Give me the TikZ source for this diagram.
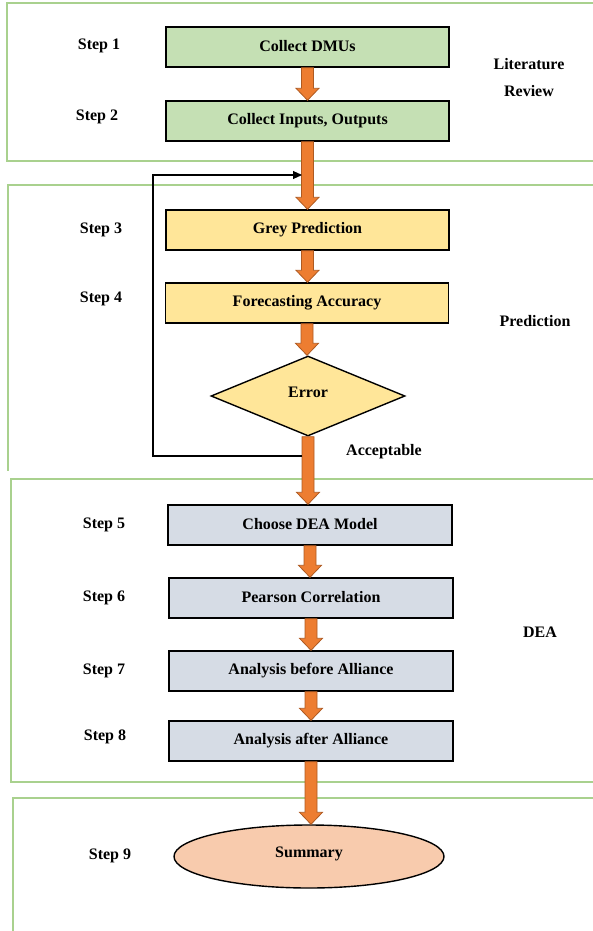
\documentclass[tikz,border=0pt]{standalone}
\usepackage{fontspec}
\setmainfont{Liberation Serif}
\usetikzlibrary{shapes.geometric,calc,arrows.meta}
\definecolor{frameg}{HTML}{A9D18E}
\definecolor{boxgreen}{HTML}{C5E0B4}
\definecolor{boxyellow}{HTML}{FFE699}
\definecolor{boxgrey}{HTML}{D6DCE5}
\definecolor{boxpeach}{HTML}{F8CBAD}
\definecolor{arrfill}{HTML}{ED7D31}
\definecolor{arrdraw}{HTML}{AE5A21}
\tikzset{
  lbl/.style={font=\bfseries\fontsize{16}{18}\selectfont, inner sep=0pt},
  stepbox/.style={draw=black, line width=1.4pt, minimum height=40pt, inner sep=0pt, font=\bfseries\fontsize{16}{18}\selectfont},
  gbox/.style={stepbox, fill=boxgreen, minimum width=283pt},
  ybox/.style={stepbox, fill=boxyellow, minimum width=283pt},
  sbox/.style={stepbox, fill=boxgrey, minimum width=284pt},
  frame/.style={draw=frameg, line width=1.4pt},
  barrowstyle/.style={fill=arrfill, draw=arrdraw, line width=0.8pt, line join=miter},
}
\newcommand\barrow[2]{%
  \draw[barrowstyle] let \p1=(#1.south), \p2=(#2.north) in
   (\x1-6pt,\y1) -- (\x1+6pt,\y1) -- (\x1+6pt,\y2+12pt) -- (\x1+11.5pt,\y2+12pt) -- (\x1,\y2)
   -- (\x1-11.5pt,\y2+12pt) -- (\x1-6pt,\y2+12pt) -- cycle;}
\begin{document}
\begin{tikzpicture}[x=1pt,y=-1pt]
\useasboundingbox (0,0) rectangle (592,931);
% frames
\draw[frame] (600,3) -- (7,3) -- (7,161) -- (600,161);
\draw[frame] (600,185) -- (8,185) -- (8,471);
\draw[frame] (600,479) -- (11,479) -- (11,782) -- (600,782);
\draw[frame] (600,798) -- (13,798) -- (13,935);
% boxes
\node[gbox] (s1) at (307.5,47) {\raisebox{3pt}{Collect DMUs}};
\node[gbox] (s2) at (307.5,121) {\raisebox{3pt}{Collect Inputs, Outputs}};
\node[ybox] (s3) at (307.5,230) {\raisebox{3pt}{Grey Prediction}};
\node[ybox] (s4) at (307,303) {\raisebox{3pt}{Forecasting Accuracy}};
\node[diamond, draw=black, line width=1.4pt, fill=boxyellow, minimum width=194pt, minimum height=80pt, aspect=2.4, inner sep=0pt, font=\bfseries\fontsize{16}{18}\selectfont] (err) at (308,396) {\raisebox{7pt}{Error}};
\node[sbox] (s5) at (310,525) {\raisebox{3pt}{Choose DEA Model}};
\node[sbox] (s6) at (311,598) {\raisebox{3pt}{Pearson Correlation}};
\node[sbox] (s7) at (311,671) {\raisebox{3pt}{Analysis before Alliance}};
\node[sbox] (s8) at (311,741) {\raisebox{3pt}{Analysis after Alliance}};
\node[ellipse, draw=black, line width=1.4pt, fill=boxpeach, minimum width=270pt, minimum height=63pt, inner sep=0pt, font=\bfseries\fontsize{16}{18}\selectfont] (s9) at (309,856.5) {\raisebox{9pt}{Summary}};
% labels
\node[lbl] (l1) at (99,46) {Step 1};
\node[lbl] (l2) at (97,117) {Step 2};
\node[lbl] (l3) at (101,230) {Step 3};
\node[lbl] (l4) at (101,299) {Step 4};
\node[lbl] (l5) at (104,525) {Step 5};
\node[lbl] (l6) at (104,598) {Step 6};
\node[lbl] (l7) at (104,671) {Step 7};
\node[lbl] (l8) at (105,737) {Step 8};
\node[lbl] (l9) at (110,856) {Step 9};
\node[lbl] (lit) at (529,64) {Literature};
\node[lbl] (rev) at (529,91) {Review};
\node[lbl] (pred) at (535,321) {Prediction};
\node[lbl] (dea) at (540,632) {DEA};
\node[lbl] (acc) at (384,452) {Acceptable};
% arrows
\barrow{s1}{s2}
\barrow{s2}{s3}
\barrow{s3}{s4}
\barrow{s4}{err}
\barrow{err}{s5}
\barrow{s5}{s6}
\barrow{s6}{s7}
\barrow{s7}{s8}
\barrow{s8}{s9}
% feedback
\coordinate (fbstart) at (302,456);
\coordinate (fbend) at (302,175);
\draw[line width=1.1pt, -{Triangle[length=9pt,width=8pt]}] (fbstart) -- (153,456) -- (153,175) -- (fbend);
\end{tikzpicture}
\end{document}
